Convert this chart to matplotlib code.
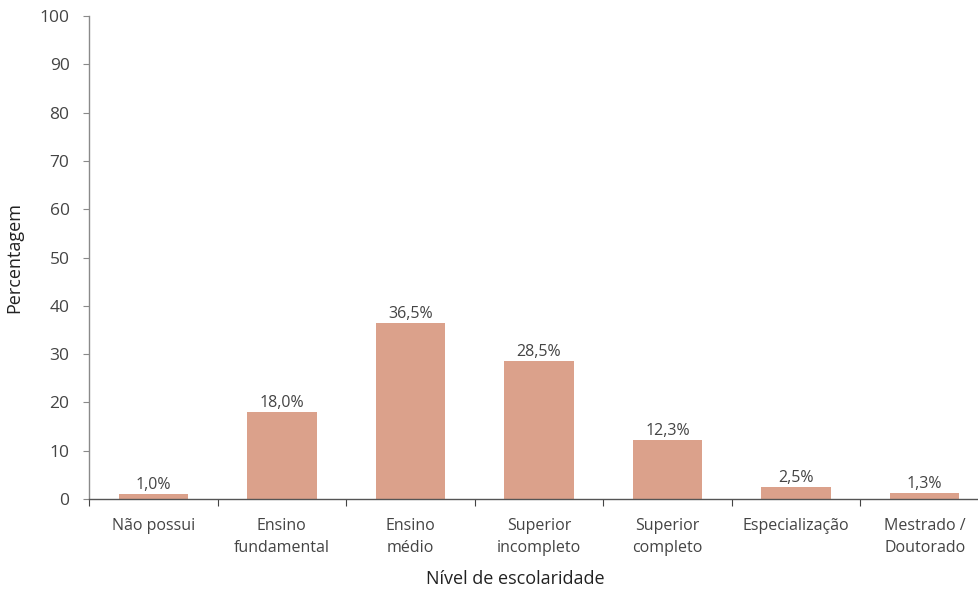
import matplotlib
matplotlib.use("Agg")
import matplotlib.pyplot as plt

categories = ["Não possui", "Ensino\nfundamental", "Ensino\nmédio", "Superior\nincompleto",
              "Superior\ncompleto", "Especialização", "Mestrado /\nDoutorado"]
values = [1.0, 18.0, 36.5, 28.5, 12.3, 2.5, 1.3]
yticks = list(range(0, 101, 10))

BAR_COLOR = "#dba18b"
AXIS_COLOR = "#8a8a8a"
TEXT_COLOR = "#444444"

plt.rcParams["font.family"] = ["Open Sans", "DejaVu Sans"]

fig = plt.figure(figsize=(9.79, 5.95), dpi=100)
ax = fig.add_axes([89 / 979, 96 / 595, 900 / 979, 483 / 595])

x = list(range(len(categories)))
ax.bar(x, values, width=0.54, color=BAR_COLOR, zorder=2)
for xi, v in zip(x, values):
    ax.text(xi, v + 0.2, f"{v:.1f}".replace(".", ",") + "%", ha="center", va="bottom",
            fontsize=11.5, color=TEXT_COLOR)

ax.set_xlim(-0.5, len(categories) - 0.5)
ax.set_ylim(0, 100)
ax.set_yticks(yticks)
ax.tick_params(axis="y", direction="out", length=4, color=AXIS_COLOR, labelsize=12.5,
               labelcolor=TEXT_COLOR, pad=10)

# category labels sit between the boundary ticks
ax.set_xticks([i - 0.5 for i in range(len(categories) + 1)])
ax.set_xticklabels([])
ax.set_xticks(x, minor=True)
ax.set_xticklabels(categories, minor=True, fontsize=11.5, color=TEXT_COLOR, linespacing=1.45)
ax.tick_params(axis="x", which="major", direction="out", length=5, color="#444444")
ax.tick_params(axis="x", which="minor", length=0, pad=14)

for side in ("top", "right"):
    ax.spines[side].set_visible(False)
ax.spines["left"].set_color(AXIS_COLOR)
ax.spines["bottom"].set_color("#555555")
ax.spines["left"].set_linewidth(1.0)
ax.spines["bottom"].set_linewidth(1.0)

ax.set_ylabel("Percentagem", fontsize=13, color="#222222", labelpad=12)
ax.set_xlabel("Nível de escolaridade", fontsize=13, color="#222222")
ax.xaxis.set_label_coords(0.474, -0.147)

fig.savefig("out.png", dpi=100)
